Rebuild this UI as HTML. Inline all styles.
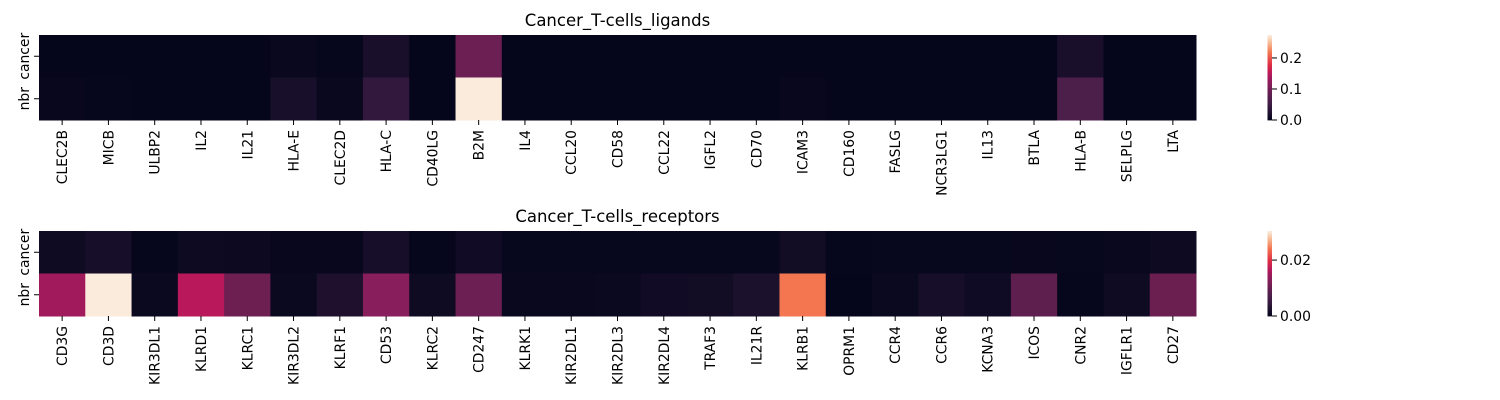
<!DOCTYPE html>
<html><head><meta charset="utf-8">
<style>
html,body{margin:0;padding:0;background:#fff;}
svg{display:block;font-family:"DejaVu Sans","Liberation Sans",sans-serif;}
</style></head>
<body>
<svg id="fig" width="1500" height="400" viewBox="0 0 1500 400" xmlns="http://www.w3.org/2000/svg"></svg>
<script>
const rows = ['cancer','nbr'];
const ligandGenes = ['CLEC2B','MICB','ULBP2','IL2','IL21','HLA-E','CLEC2D','HLA-C','CD40LG','B2M','IL4','CCL20','CD58','CCL22','IGFL2','CD70','ICAM3','CD160','FASLG','NCR3LG1','IL13','BTLA','HLA-B','SELPLG','LTA'];
const ligandCancer = [0.002,0.002,0.002,0.002,0.002,0.005,0.003,0.02,0.002,0.094,0.002,0.002,0.002,0.002,0.002,0.002,0.002,0.002,0.002,0.002,0.002,0.002,0.02,0.002,0.002];
const ligandNbr = [0.004,0.003,0.002,0.002,0.002,0.019,0.006,0.041,0.002,0.274,0.002,0.002,0.002,0.002,0.002,0.002,0.004,0.002,0.002,0.002,0.002,0.002,0.066,0.002,0.002];
const ligandTicks = ['0.0','0.1','0.2'];
const ligandTickVals = [0,0.1,0.2];
const ligandMax = 0.274;

const receptorGenes = ['CD3G','CD3D','KIR3DL1','KLRD1','KLRC1','KIR3DL2','KLRF1','CD53','KLRC2','CD247','KLRK1','KIR2DL1','KIR2DL3','KIR2DL4','TRAF3','IL21R','KLRB1','OPRM1','CCR4','CCR6','KCNA3','ICOS','CNR2','IGFLR1','CD27'];
const receptorCancer = [0.0012,0.002,0.0003,0.001,0.0009,0.0005,0.0005,0.002,0.0003,0.0014,0.0004,0.0004,0.0004,0.0004,0.0004,0.0004,0.0015,0.0003,0.0004,0.0004,0.0004,0.0005,0.0004,0.0006,0.001];
const receptorNbr = [0.0152,0.0304,0.0008,0.0168,0.0107,0.0008,0.0027,0.013,0.0012,0.0105,0.0006,0.0006,0.0008,0.0014,0.0015,0.0025,0.0243,0.0002,0.0008,0.002,0.0013,0.0091,0.0003,0.0012,0.0104];
const receptorTicks = ['0.00','0.02'];
const receptorTickVals = [0,0.02];
const receptorMax = 0.0304;

const stops=[[0,'#03051a'],[0.1,'#221331'],[0.15,'#32183d'],[0.24,'#4c1f4b'],[0.35,'#6d1f52'],[0.43,'#891e5b'],[0.5,'#a11a5b'],[0.55,'#b8195b'],[0.65,'#dd2c45'],[0.8,'#f37651'],[0.9,'#f6b48e'],[1,'#faebdd']];
function hex(h){return [1,3,5].map(i=>parseInt(h.substr(i,2),16));}
function cmap(t){t=Math.max(0,Math.min(1,t));
 for(let i=1;i<stops.length;i++){if(t<=stops[i][0]){const a=stops[i-1],b=stops[i];const f=(t-a[0])/(b[0]-a[0]);const A=hex(a[1]),B=hex(b[1]);return 'rgb('+A.map((v,k)=>Math.round(v+(B[k]-v)*f)).join(',')+')';}}
 return stops[stops.length-1][1];}

const NS='http://www.w3.org/2000/svg';
const svg=document.getElementById('fig');
function mk(tag,attrs,parent){const e=document.createElementNS(NS,tag);for(const k in attrs)e.setAttribute(k,attrs[k]);(parent||svg).appendChild(e);return e;}

function panel(key,title,genes,series,vmax,tickLabels,tickVals,y0){
 const x0=39,x1=1196,h=85,cw=(x1-x0)/genes.length,rh=h/rows.length;
 const g=mk('g',{});
 
 
 const xs=i=>x0+i*cw, ys=r=>y0+r*rh;
 const t=mk('text',{x:(x0+x1)/2,y:y0-9,'text-anchor':'middle','font-size':'16.5',fill:'#000'},g);
 t.textContent=title;
 
 
 series.forEach((vals,r)=>{vals.forEach((v,i)=>{
  const c=mk('rect',{x:xs(i),y:ys(r),width:cw+0.5,height:rh+0.5,fill:cmap(v/vmax)},g);
  
  
 });});
 rows.forEach((rn,r)=>{const cy=ys(r)+rh/2;
  mk('line',{x1:x0-5,x2:x0,y1:cy,y2:cy,stroke:'#000','stroke-width':1},g);
  const l=mk('text',{x:0,y:0,transform:'translate('+(x0-10)+','+cy+') rotate(-90)','text-anchor':'middle','font-size':'13.9',fill:'#000'},g);
  l.textContent=rn;
  
  
 });
 genes.forEach((gn,i)=>{const cx=xs(i)+cw/2,by=y0+h;
  mk('line',{x1:cx,x2:cx,y1:by,y2:by+5,stroke:'#000','stroke-width':1},g);
  const l=mk('text',{x:0,y:0,transform:'translate('+(cx+5)+','+(by+10)+') rotate(-90)','text-anchor':'end','font-size':'13.9',fill:'#000'},g);
  l.textContent=gn;
  
  
 });
 // colorbar
 const cb=mk('g',{},g);
 
 
 const cx0=1267.5,cwid=4.5,N=85;
 for(let k=0;k<N;k++){mk('rect',{x:cx0,y:y0+h-(k+1)*h/N,width:cwid,height:h/N+0.4,fill:cmap((k+0.5)/N)},cb);}
 tickVals.forEach((tv,j)=>{const ty=y0+h-tv/vmax*h;
  mk('line',{x1:cx0+cwid,x2:cx0+cwid+5,y1:ty,y2:ty,stroke:'#000','stroke-width':1},cb);
  const l=mk('text',{x:cx0+cwid+8,y:ty+5,'font-size':'13.9',fill:'#000'},cb);
  l.textContent=tickLabels[j];
  
  
 });
}
panel('ligands','Cancer_T-cells_ligands',ligandGenes,[ligandCancer,ligandNbr],ligandMax,ligandTicks,ligandTickVals,35);
panel('receptors','Cancer_T-cells_receptors',receptorGenes,[receptorCancer,receptorNbr],receptorMax,receptorTicks,receptorTickVals,231);
</script>
</body></html>
